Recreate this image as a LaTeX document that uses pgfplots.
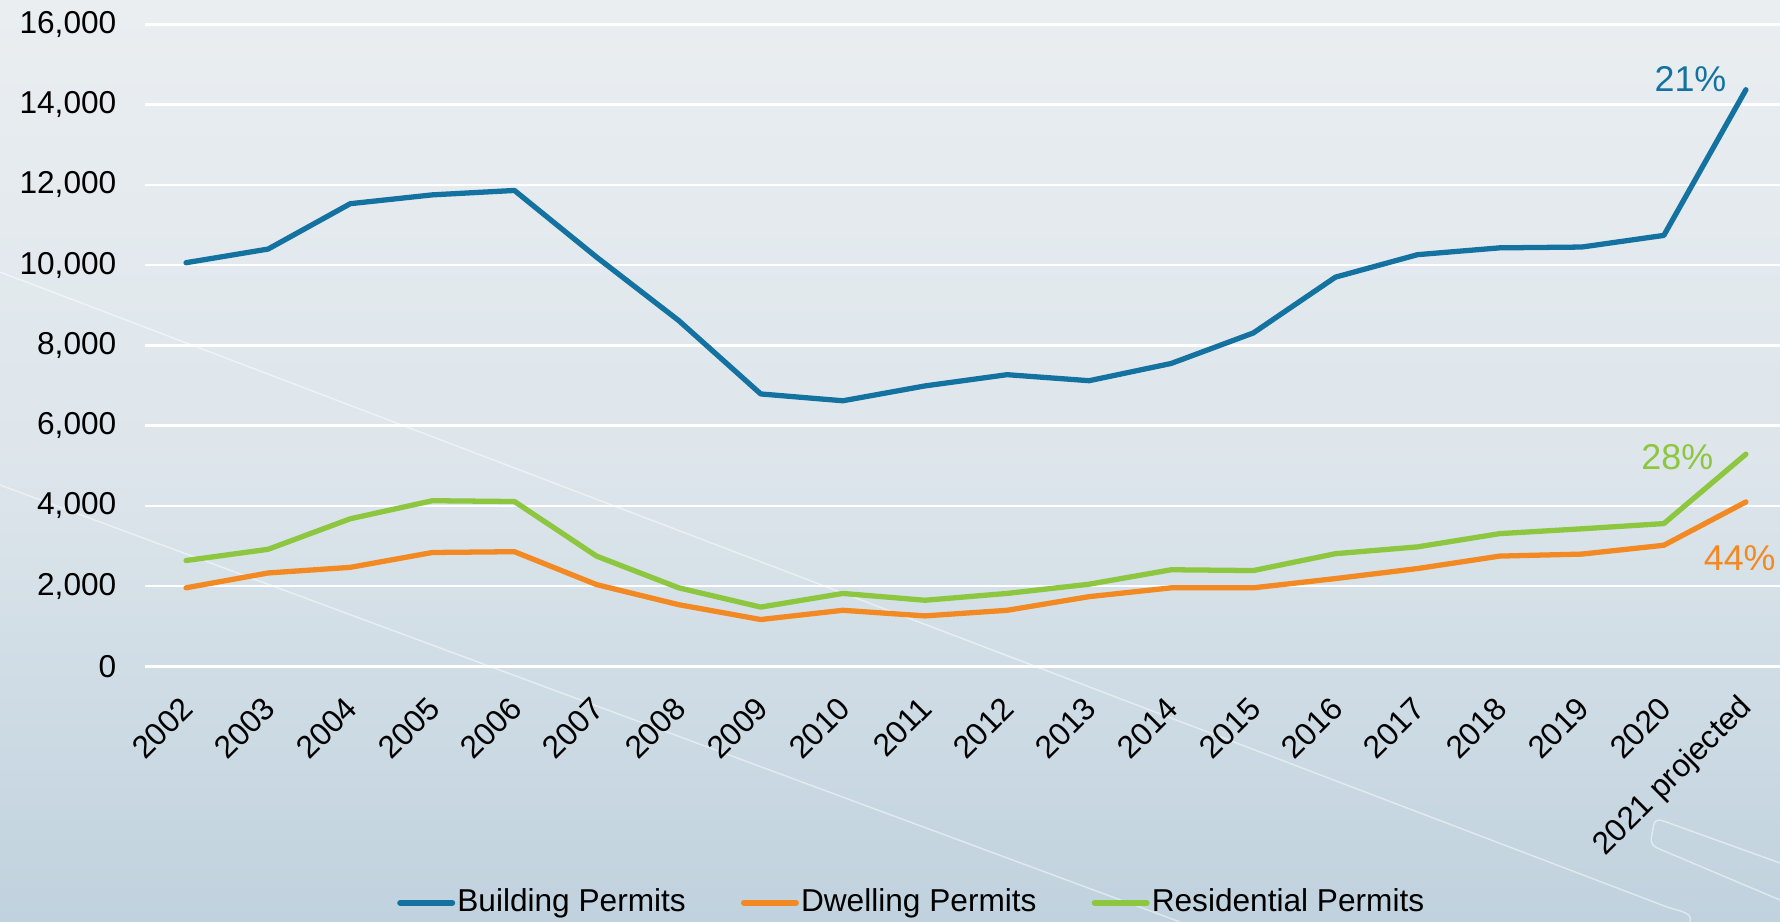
\documentclass[border=0pt]{standalone}
\usepackage{fontspec}
\setmainfont{Liberation Sans}
\usepackage{pgfplots}
\pgfplotsset{compat=1.18}

\definecolor{bldblue}{RGB}{20,114,160}
\definecolor{dwlorange}{RGB}{242,137,35}
\definecolor{resgreen}{RGB}{141,198,63}
\definecolor{bgtop}{RGB}{234,238,241}
\definecolor{bgbot}{RGB}{192,210,222}

\pgfplotstableread{
x  bld    dwl   res
0  10060  1960  2640
1  10400  2330  2920
2  11530  2470  3680
3  11750  2840  4130
4  11860  2860  4110
5  10200  2040  2750
6  8620   1540  1960
7  6790   1170  1480
8  6620   1400  1820
9  6990   1260  1650
10 7270   1400  1820
11 7120   1740  2050
12 7550   1960  2410
13 8310   1960  2390
14 9700   2190  2810
15 10260  2440  2980
16 10430  2750  3310
17 10450  2800  3430
18 10740  3020  3560
19 14370  4100  5290
}\permits

\begin{document}
\begin{tikzpicture}
% background panel, 17.8 x 9.22 cm
\shade[top color=bgtop, bottom color=bgbot, middle color=bgtop!70!bgbot]
  (-1.45,-2.555) rectangle (16.35,6.665);
\useasboundingbox (-1.45,-2.555) rectangle (16.35,6.665);
% faint decorative strokes
\begin{scope}[white, opacity=0.5, line width=0.4pt]
  \draw (-1.45,3.945) -- (15.22,-2.405) to[out=-20,in=70] (15.45,-2.555);
  \draw (-1.45,1.815) -- (10.35,-2.555);
  \draw[rounded corners=2pt] (16.35,-1.965) -- (15.10,-1.515) -- (15.05,-1.785) -- (16.35,-2.335);
\end{scope}

\begin{axis}[
  scale only axis,
  width=16.35cm, height=6.422cm,
  xmin=-0.5, xmax=19.415, ymin=0, ymax=16000,
  axis line style={draw=none},
  tick style={draw=none},
  major tick length=0pt,
  ymajorgrids,
  grid style={white, line width=0.7pt},
  ytick={0,2000,...,16000},
  scaled y ticks=false,
  /pgf/number format/.cd, 1000 sep={,}, assume math mode=true,
  /pgfplots/.cd,
  xtick={0,...,19},
  xticklabels={2002,2003,2004,2005,2006,2007,2008,2009,2010,2011,2012,2013,
    2014,2015,2016,2017,2018,2019,2020,2021 projected},
  tick label style={font=\fontsize{9}{10}\selectfont, text=black},
  yticklabel style={anchor=east, inner sep=0pt, xshift=-2.8mm},
  xticklabel style={xshift=0.2mm, yshift=-3.6mm, rotate=45, anchor=east, inner sep=0pt},
  clip=false,
  legend columns=3,
  legend cell align=left,
  legend style={at={(0.469,-0.368)}, anchor=center, draw=none, fill=none,
    font=\fontsize{9}{10}\selectfont, inner sep=0pt,
    nodes={inner sep=0.6pt},
    /tikz/every even column/.append style={column sep=5.3mm}},
  legend image code/.code={\draw[#1, line width=1.7pt] (0cm,0cm) -- (0.52cm,0cm);},
  every axis plot/.append style={line width=1.5pt, line join=round, line cap=round},
]
\addplot[bldblue] table[x=x, y=bld] {\permits};
\addlegendentry{Building Permits}
\addplot[dwlorange] table[x=x, y=dwl] {\permits};
\addlegendentry{Dwelling Permits}
\addplot[resgreen] table[x=x, y=res] {\permits};
\addlegendentry{Residential Permits}

\node[anchor=base east, inner sep=0pt, text=bldblue, font=\fontsize{10.2}{12}\selectfont]
  at (axis cs:18.77,14313) {21\%};
\node[anchor=base east, inner sep=0pt, text=resgreen, font=\fontsize{10.2}{12}\selectfont]
  at (axis cs:18.61,4920) {28\%};
\node[anchor=base east, inner sep=0pt, text=dwlorange, font=\fontsize{10.2}{12}\selectfont]
  at (axis cs:19.37,2379) {44\%};
\end{axis}
\end{tikzpicture}
\end{document}
